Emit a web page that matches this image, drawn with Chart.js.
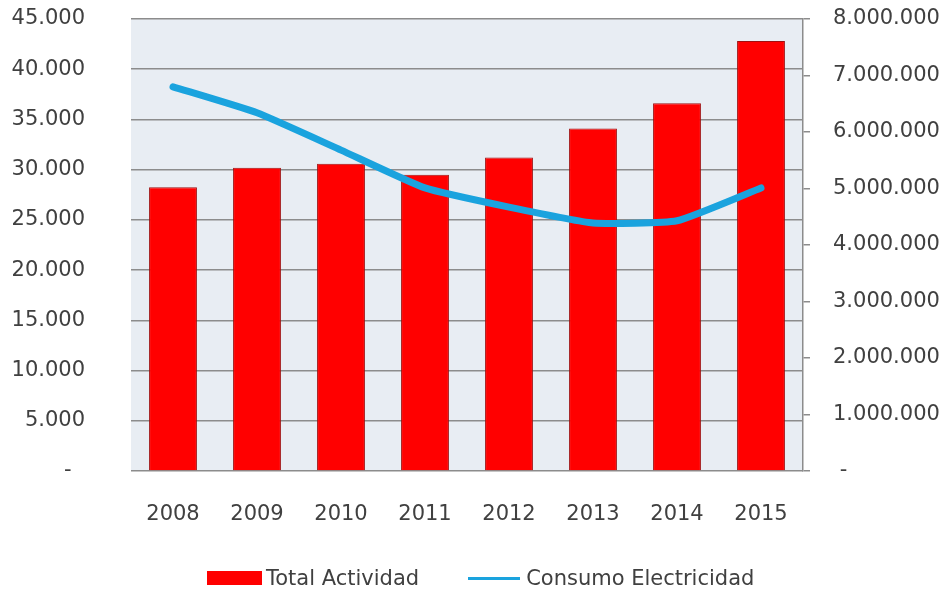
<!DOCTYPE html>
<html>
<head>
<meta charset="utf-8">
<script src="https://cdn.jsdelivr.net/npm/chart.js@4.4.0/dist/chart.umd.min.js"></script>
<style>
  body { margin: 0; background: #fff; }
  #wrap { position: relative; width: 952px; height: 589px; }
  #legend { position: absolute; left: 207px; top: 565px; height: 26px; display: flex; align-items: center;
            font-family: "DejaVu Sans", sans-serif; font-size: 21px; color: #404040; }
  .box { width: 55px; height: 14px; background: #ff0000; margin-right: 4px; }
  .ln { width: 52px; height: 3px; background: #1aa3de; margin-left: 49px; margin-right: 6px; }
</style>
</head>
<body>
<div id="wrap">
  <canvas id="chart"></canvas>
  <div id="legend">
    <span class="box"></span><span>Total Actividad</span>
    <span class="ln"></span><span>Consumo Electricidad</span>
  </div>
</div>
<script>
const years = ['2008', '2009', '2010', '2011', '2012', '2013', '2014', '2015'];
const totalActividad = [28250, 30200, 30600, 29500, 31200, 34100, 36600, 42800];
const consumoElectricidad = [6800000, 6340000, 5680000, 5010000, 4670000, 4390000, 4430000, 5010000];

// Excel-style "accounting" zero shown as a dash
function fmt(v) {
    if (v === 0) return '-  ';
    return v.toLocaleString('de-DE');
}

const plotBg = {
    id: 'plotBg',
    beforeDraw(chart) {
        let a = chart.chartArea;
        let ctx = chart.ctx;
        ctx.save();
        ctx.fillStyle = '#e8edf3';
        ctx.fillRect(a.left, a.top, a.right - a.left, a.bottom - a.top);
        ctx.restore();
    }
};

const font = { family: 'DejaVu Sans', size: 21 };

new Chart(document.getElementById('chart'), {
    type: 'bar',
    data: {
        labels: years,
        datasets: [
            {
                label: 'Total Actividad',
                data: totalActividad,
                backgroundColor: '#ff0000',
                borderColor: '#a01010',
                borderWidth: 1,
                barPercentage: 0.57,
                categoryPercentage: 1,
                yAxisID: 'y',
                order: 1
            },
            {
                type: 'line',
                label: 'Consumo Electricidad',
                data: consumoElectricidad,
                borderColor: '#1aa3de',
                backgroundColor: '#1aa3de',
                borderWidth: 7,
                borderCapStyle: 'round',
                borderJoinStyle: 'round',
                tension: 0.15,
                pointRadius: 0,
                yAxisID: 'y1',
                order: 0
            }
        ]
    },
    options: {
        responsive: true,
        maintainAspectRatio: false,
        animation: false,
        layout: { padding: { top: 19, left: 0, right: 0, bottom: 57 } },
        plugins: { legend: { display: false }, tooltip: { enabled: false } },
        scales: {
            x: {
                grid: { display: false },
                border: { display: false },
                ticks: { color: '#404040', font: font, padding: 23 },
                afterFit(scale) { scale.height = 61; }
            },
            y: {
                position: 'left',
                min: 0,
                max: 45000,
                ticks: { stepSize: 5000, color: '#404040', font: font, padding: 46, callback: fmt },
                grid: { color: '#8c8c8c', lineWidth: 1.5, drawTicks: false },
                border: { display: false },
                afterFit(scale) {
                    scale.width = 131;
                    scale.paddingTop = 0;
                    scale.paddingBottom = 0;
                }
            },
            y1: {
                position: 'right',
                min: 0,
                max: 8000000,
                ticks: { stepSize: 1000000, color: '#404040', font: font, padding: 23,
                         callback: v => v === 0 ? ' -' : v.toLocaleString('de-DE') },
                grid: { drawOnChartArea: false, drawTicks: true, tickLength: 7, color: '#8c8c8c', lineWidth: 1.5 },
                border: { display: true, color: '#8c8c8c', width: 1.5 },
                afterFit(scale) {
                    scale.width = 149;
                    scale.paddingTop = 0;
                    scale.paddingBottom = 0;
                }
            }
        }
    },
    plugins: [plotBg]
});
</script>
</body>
</html>
